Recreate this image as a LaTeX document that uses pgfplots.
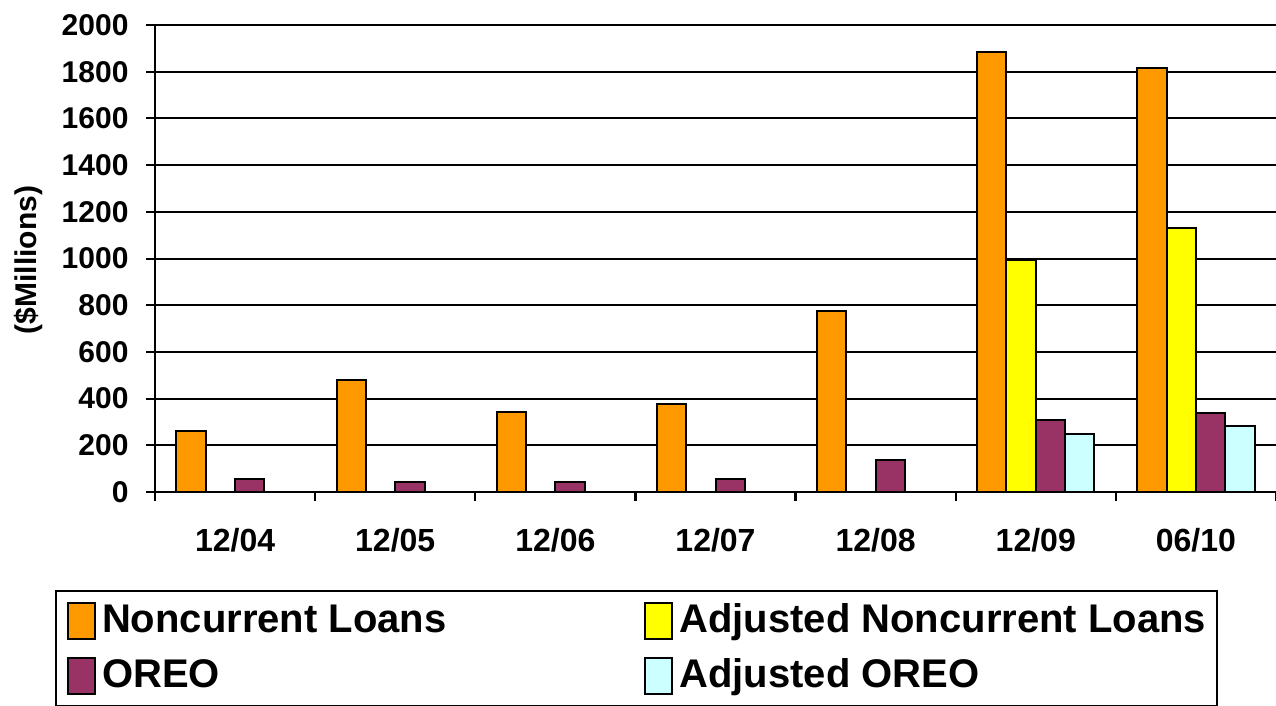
\documentclass[border=0pt]{standalone}
\usepackage{fontspec}
\setmainfont{Liberation Sans}
\usepackage{pgfplots}
\pgfplotsset{compat=1.18}
\definecolor{nc}{HTML}{FF9900}
\definecolor{adjnc}{HTML}{FFFF00}
\definecolor{oreo}{HTML}{993366}
\definecolor{adjoreo}{HTML}{CCFFFF}
\begin{document}
\begin{tikzpicture}
\fill[white] (0,0) rectangle (1276pt,705pt);
\begin{axis}[
  at={(155pt,213pt)}, anchor=south west,
  scale only axis, width=1121pt, height=467pt,
  ybar=0pt, bar width=29.3pt,
  xmin=-0.5, xmax=6.5, ymin=0, ymax=2000,
  axis x line=bottom, axis y line=left,
  axis line style={-, line width=2.2pt},
  xtick={0,...,6}, xticklabels={12/04,12/05,12/06,12/07,12/08,12/09,06/10},
  major x tick style={draw=none},
  minor xtick={-0.5,0.5,...,6.5},
  minor x tick style={draw=black, line width=2.2pt},
  ytick={0,200,...,2000},
  major y tick style={draw=black, line width=2pt},
  tick align=outside,
  major tick length=9pt, minor tick length=9pt,
  ymajorgrids, grid style={black, line width=2pt},
  /pgf/number format/assume math mode=true,
  /pgf/number format/set thousands separator={},
  yticklabel style={font=\bfseries\fontsize{30}{30}\selectfont, xshift=-14pt},
  xticklabel style={font=\bfseries\fontsize{32}{32}\selectfont, yshift=-24pt},
  ylabel={(\$Millions)},
  every axis y label/.style={at={(axis description cs:-0.1133,0.497)}, rotate=90, anchor=center,
    font=\bfseries\fontsize{30}{30}\selectfont},
  legend columns=2,
  legend cell align=left,
  legend style={at={(axis description cs:-0.0892,-0.2099)}, anchor=north west,
    draw=black, fill=white, line width=2pt, inner xsep=11pt, inner ysep=11pt,
    font=\bfseries\fontsize{40}{40}\selectfont,
    nodes={inner sep=0pt, text height=30pt, text depth=8pt},
    /tikz/every odd column/.append style={column sep=6pt},
    /tikz/every even column/.append style={column sep=198pt},
    /tikz/row sep=17pt},
  legend image code/.code={\draw[#1, line width=2pt] (0pt,-18pt) rectangle (27pt,18pt);},
]
\addplot[fill=nc, draw=black, line width=2pt] coordinates {(0,260) (1,481) (2,343) (3,375) (4,776) (5,1886) (6,1817)};
\addplot[fill=adjnc, draw=black, line width=2pt] coordinates {(5,994) (6,1130)};
\addplot[fill=oreo, draw=black, line width=2pt] coordinates {(0,56) (1,44) (2,44) (3,56) (4,136) (5,307) (6,338)};
\addplot[fill=adjoreo, draw=black, line width=2pt] coordinates {(5,248) (6,284)};
\legend{Noncurrent Loans, Adjusted Noncurrent Loans, OREO, Adjusted OREO}
\end{axis}
\pgfresetboundingbox
\useasboundingbox (0,0) rectangle (1276pt,705pt);
\end{tikzpicture}
\end{document}
